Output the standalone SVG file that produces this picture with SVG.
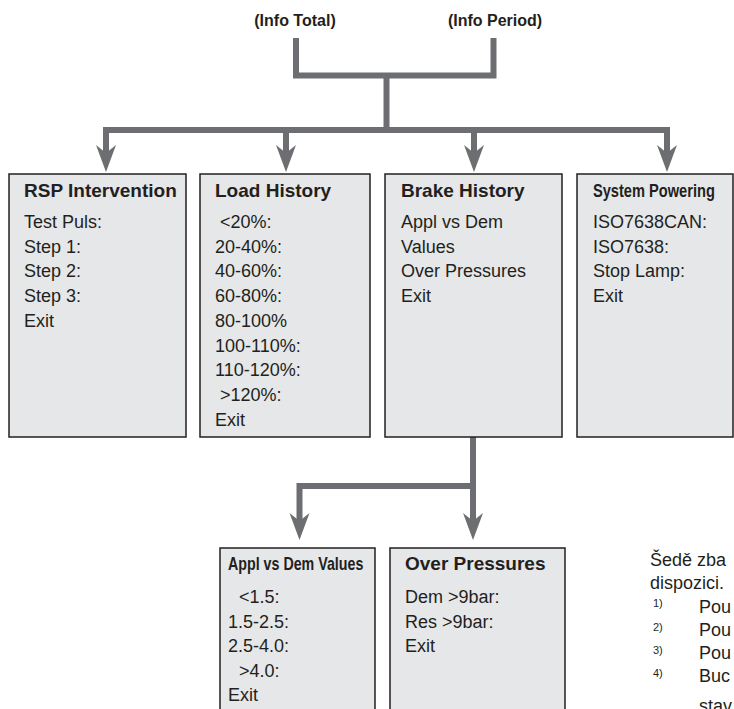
<svg xmlns="http://www.w3.org/2000/svg" width="734" height="709" viewBox="0 0 734 709">
<style>
.box{fill:#e6e7e8;stroke:#231f20;stroke-width:1.5}
.conn{fill:none;stroke:#6d6e71;stroke-width:6;stroke-linecap:butt;stroke-linejoin:miter}
.h{font-family:"Liberation Sans",Arial,sans-serif;font-weight:bold;font-size:19px;fill:#231f20}
.t{font-family:"Liberation Sans",Arial,sans-serif;font-size:18px;fill:#231f20}
.top{font-family:"Liberation Sans",Arial,sans-serif;font-weight:bold;font-size:16px;fill:#231f20;text-anchor:middle}
.sup{font-family:"Liberation Sans",Arial,sans-serif;font-size:11px;fill:#231f20}
</style>
<defs>
<marker id="ah" markerUnits="userSpaceOnUse" viewBox="-10 -11 31 22" refX="0" refY="0" markerWidth="31" markerHeight="22" orient="auto">
<path d="M19,0 L-8,-10 L0,0 L-8,10 Z" fill="#6d6e71"/>
</marker>
</defs>

<g id="labels">
<text class="top" x="295" y="26">(Info Total)</text>
<text class="top" x="495" y="26">(Info Period)</text>
</g>

<g id="connectors">
<path class="conn" d="M296,38 V75.5 H493.5 V38"/>
<path class="conn" d="M386.5,75.5 V130"/>
<path class="conn" d="M389,130 H106 V153" marker-end="url(#ah)"/>
<path class="conn" d="M384,130 H667 V153" marker-end="url(#ah)"/>
<path class="conn" d="M286,130 V153" marker-end="url(#ah)"/>
<path class="conn" d="M474,130 V153" marker-end="url(#ah)"/>
<path class="conn" d="M473,437 V521" marker-end="url(#ah)"/>
<path class="conn" d="M476,486 H299.5 V521" marker-end="url(#ah)"/>
</g>

<g id="rsp">
<rect class="box" x="9" y="174" width="177" height="263"/>
<text class="h" x="24" y="197">RSP Intervention</text>
<text class="t" x="24" y="228">Test Puls:</text>
<text class="t" x="24" y="252.7">Step 1:</text>
<text class="t" x="24" y="277.4">Step 2:</text>
<text class="t" x="24" y="302.1">Step 3:</text>
<text class="t" x="24" y="326.8">Exit</text>
</g>

<g id="load">
<rect class="box" x="200" y="174" width="170" height="263"/>
<text class="h" x="215" y="197">Load History</text>
<text class="t" x="220" y="228">&lt;20%:</text>
<text class="t" x="215" y="252.7">20-40%:</text>
<text class="t" x="215" y="277.4">40-60%:</text>
<text class="t" x="215" y="302.1">60-80%:</text>
<text class="t" x="215" y="326.8">80-100%</text>
<text class="t" x="215" y="351.5">100-110%:</text>
<text class="t" x="215" y="376.2">110-120%:</text>
<text class="t" x="220" y="400.9">&gt;120%:</text>
<text class="t" x="215" y="425.6">Exit</text>
</g>

<g id="brake">
<rect class="box" x="385" y="174" width="177" height="263"/>
<text class="h" x="401" y="197">Brake History</text>
<text class="t" x="401" y="228">Appl vs Dem</text>
<text class="t" x="401" y="252.7">Values</text>
<text class="t" x="401" y="277.4">Over Pressures</text>
<text class="t" x="401" y="302.1">Exit</text>
</g>

<g id="system">
<rect class="box" x="577" y="174" width="156" height="263"/>
<text class="h" transform="translate(593,197) scale(0.77,1)" x="0" y="0">System Powering</text>
<text class="t" x="593" y="228">ISO7638CAN:</text>
<text class="t" x="593" y="252.7">ISO7638:</text>
<text class="t" x="593" y="277.4">Stop Lamp:</text>
<text class="t" x="593" y="302.1">Exit</text>
</g>

<g id="appl">
<rect class="box" x="220" y="548" width="155" height="180"/>
<text class="h" transform="translate(228,570) scale(0.75,1)" x="0" y="0">Appl vs Dem Values</text>
<text class="t" x="239" y="603">&lt;1.5:</text>
<text class="t" x="228" y="627.5">1.5-2.5:</text>
<text class="t" x="228" y="652">2.5-4.0:</text>
<text class="t" x="239" y="676.5">&gt;4.0:</text>
<text class="t" x="228" y="701">Exit</text>
</g>

<g id="over">
<rect class="box" x="390" y="548" width="175" height="180"/>
<text class="h" x="405" y="570">Over Pressures</text>
<text class="t" x="405" y="603">Dem &gt;9bar:</text>
<text class="t" x="405" y="627.5">Res &gt;9bar:</text>
<text class="t" x="405" y="652">Exit</text>
</g>

<g id="note">
<text class="t" x="650" y="566">Šedě zba</text>
<text class="t" x="650" y="589">dispozici.</text>
<text class="sup" x="653" y="607">1)</text>
<text class="t" x="699" y="613">Pou</text>
<text class="sup" x="653" y="631">2)</text>
<text class="t" x="699" y="636">Pou</text>
<text class="sup" x="653" y="654">3)</text>
<text class="t" x="699" y="659">Pou</text>
<text class="sup" x="653" y="677">4)</text>
<text class="t" x="699" y="682">Buc</text>
<text class="t" x="699" y="712">stav</text>
</g>
</svg>
